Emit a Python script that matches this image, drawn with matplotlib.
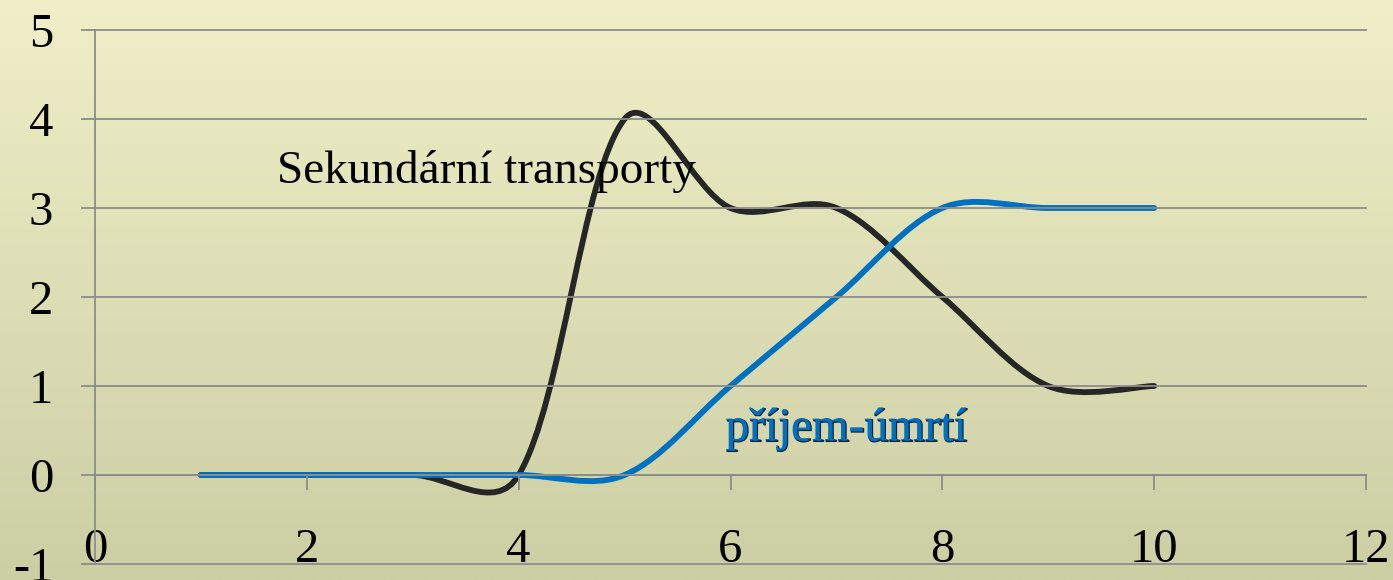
import numpy as np
import matplotlib
matplotlib.use("Agg")
import matplotlib.pyplot as plt
from matplotlib.path import Path
from matplotlib.patches import PathPatch
import matplotlib.patheffects as pe

plt.rcParams['font.family'] = ['Liberation Serif', 'DejaVu Serif']
plt.rcParams['axes.unicode_minus'] = False

x = [1, 2, 3, 4, 5, 6, 7, 8, 9, 10]
sekundarni = [0, 0, 0, 0, 4, 3, 3, 2, 1, 1]
prijem_umrti = [0, 0, 0, 0, 0, 1, 2, 3, 3, 3]

x_ticks = [0, 2, 4, 6, 8, 10, 12]
y_ticks = [-1, 0, 1, 2, 3, 4, 5]


def smooth_path(ax, xs, ys):
    # Excel-like smoothed line: Bezier segments, control points computed
    # in screen space and scaled by neighbouring segment lengths
    pts = ax.transData.transform(np.column_stack([xs, ys]).astype(float))
    n = len(pts)
    verts = [pts[0]]
    codes = [Path.MOVETO]
    for i in range(n - 1):
        p0 = pts[i - 1] if i > 0 else pts[i]
        p1 = pts[i]
        p2 = pts[i + 1]
        p3 = pts[i + 2] if i + 2 < n else pts[i + 1]
        d01 = np.hypot(*(p1 - p0))
        d12 = np.hypot(*(p2 - p1))
        d23 = np.hypot(*(p3 - p2))
        s1 = np.sqrt(2 * d12 / (d01 + d12)) if d01 > 0 else 1.0
        s2 = np.sqrt(2 * d12 / (d12 + d23)) if d23 > 0 else 1.0
        c1 = p1 + s1 * (p2 - p0) / 6.0
        c2 = p2 - s2 * (p3 - p1) / 6.0
        verts += [c1, c2, p2]
        codes += [Path.CURVE4] * 3
    verts = ax.transData.inverted().transform(np.array(verts))
    return Path(verts, codes)


W, H = 1393, 580
fig = plt.figure(figsize=(W / 100, H / 100), dpi=100)

# background gradient
bg = fig.add_axes([0, 0, 1, 1], zorder=-10)
top = np.array([240, 239, 199]) / 255
bot = np.array([204, 206, 164]) / 255
t = np.linspace(0, 1, 256)[:, None]
grad = (top[None, :] * (1 - t) + bot[None, :] * t)[:, None, :]
bg.imshow(grad, aspect='auto', extent=[0, 1, 0, 1])
bg.axis('off')

ax = fig.add_axes([95 / W, (H - 564) / H, (1366 - 95) / W, (564 - 30) / H])
ax.set_facecolor('none')
ax.set_xlim(0, 12)
ax.set_ylim(-1, 5)

grid_c = '#8c8c8c'
ax.set_yticks(y_ticks)
ax.set_xticks(x_ticks)
ax.yaxis.grid(True, color=grid_c, linewidth=1.3)
for gl in ax.get_ygridlines():
    gl.set_clip_on(False)
for s in ['top', 'right']:
    ax.spines[s].set_visible(False)
ax.spines['left'].set_color(grid_c)
ax.spines['left'].set_linewidth(1.3)
ax.spines['bottom'].set_position(('data', 0))
ax.spines['bottom'].set_color(grid_c)
ax.spines['bottom'].set_linewidth(1.3)
ax.tick_params(axis='y', direction='out', length=10, width=1.3, color=grid_c,
               labelsize=35, pad=20)
ax.tick_params(axis='x', direction='out', length=11, width=1.3, color=grid_c,
               labelsize=35, pad=27)

for ys, col in [(sekundarni, '#262626'), (prijem_umrti, '#0070c0')]:
    patch = PathPatch(smooth_path(ax, x, ys), facecolor='none', edgecolor=col,
                      linewidth=4.2, capstyle='round', joinstyle='round',
                      transform=ax.transData)
    ax.add_patch(patch)

ax.text(1.72, 3.28, 'Sekundární transporty', fontsize=34, color='black',
        ha='left', va='baseline')
ax.text(5.95, 0.39, 'příjem-úmrtí', fontsize=34, color='#0070c0',
        ha='left', va='baseline',
        path_effects=[pe.Stroke(linewidth=0.9, foreground='#14233a', offset=(0.8, -0.8)),
                      pe.Normal()])

fig.savefig('out.png', dpi=100)
